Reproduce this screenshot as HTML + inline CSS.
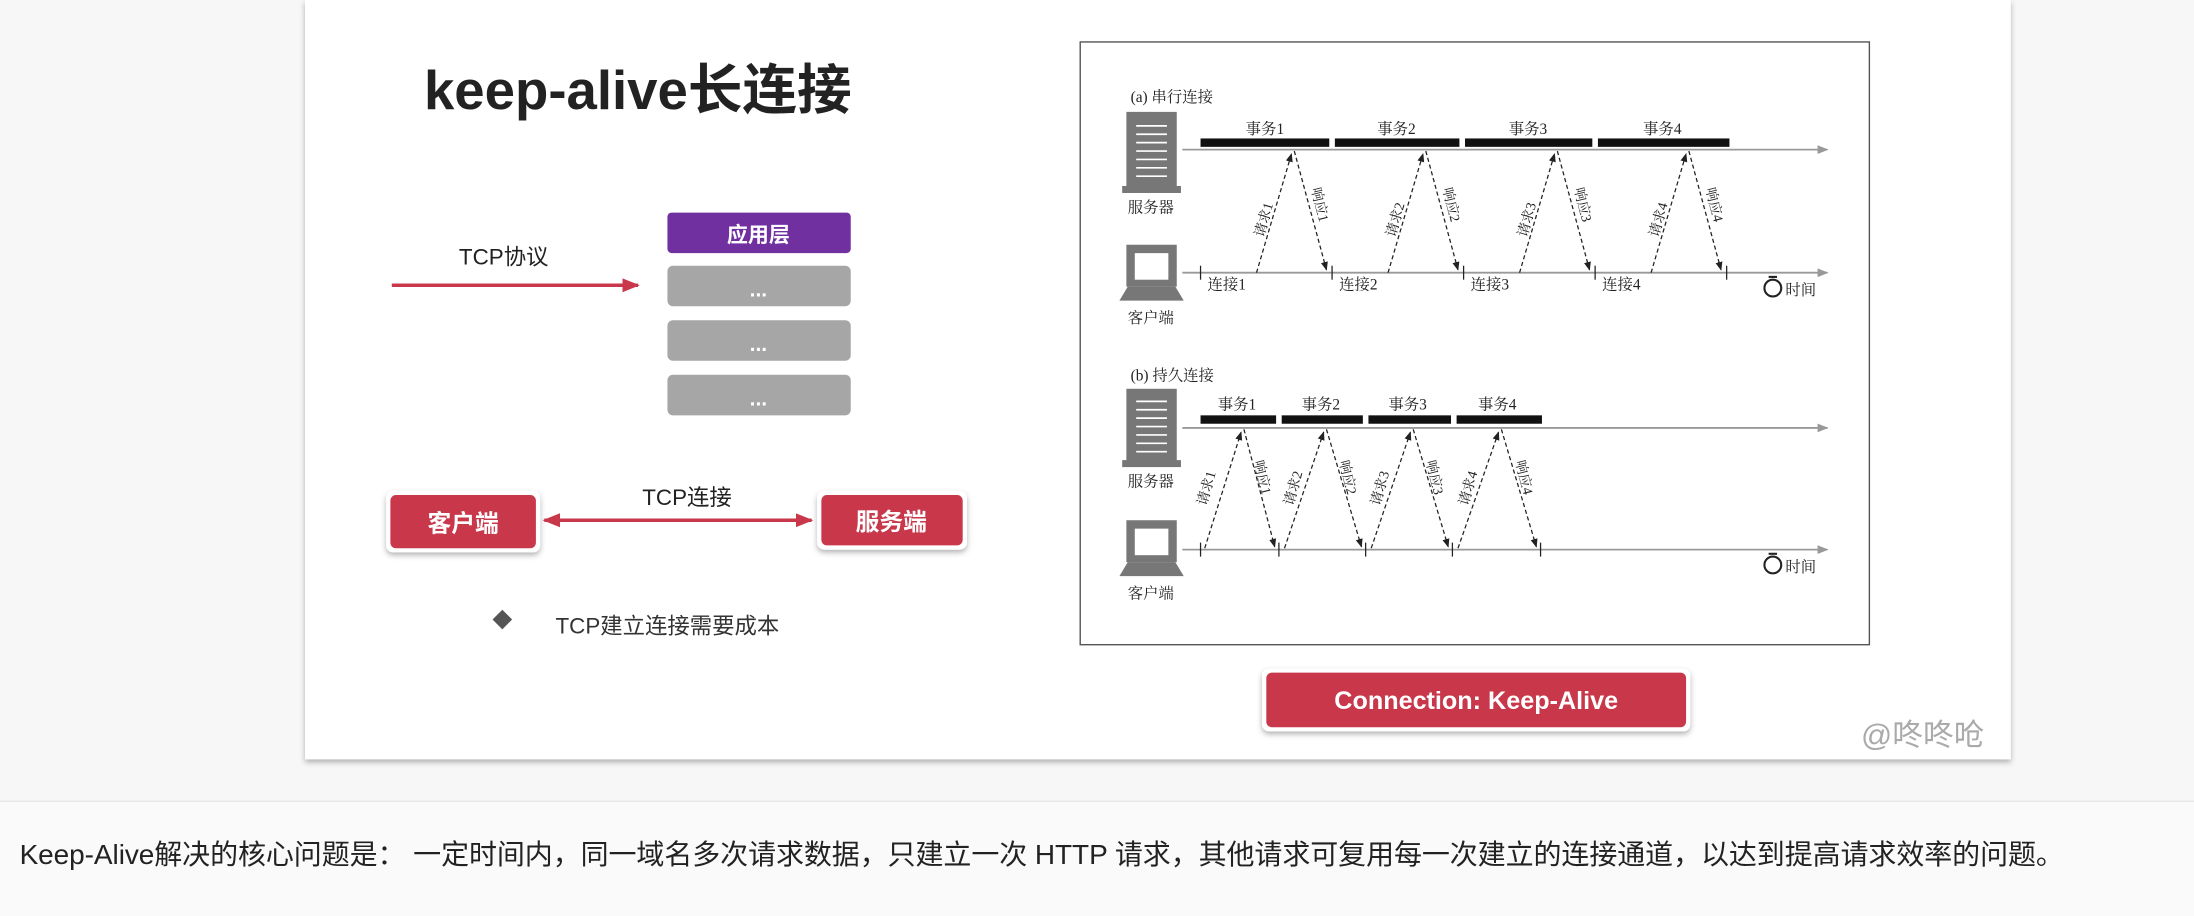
<!DOCTYPE html>
<html><head><meta charset="utf-8"><style>
html,body{margin:0;padding:0;background:#fff;}
svg{display:block;}
</style></head><body>
<svg width="2194" height="916" viewBox="0 0 1568 655" preserveAspectRatio="none" xmlns="http://www.w3.org/2000/svg" font-family="Liberation Sans, Noto Sans CJK SC, sans-serif">
<defs>
<marker id="ar" viewBox="0 0 10 10" refX="9" refY="5" markerWidth="5" markerHeight="5" orient="auto-start-reverse"><path d="M0,1 L10,5 L0,9 z" fill="#c8374a"/></marker>
<marker id="ag" viewBox="0 0 10 10" refX="9" refY="5" markerWidth="6" markerHeight="6" orient="auto"><path d="M0,1 L10,5 L0,9 z" fill="#999"/></marker>
<marker id="ak" viewBox="0 0 10 10" refX="9" refY="5" markerWidth="7" markerHeight="7" orient="auto"><path d="M0,1 L10,5 L0,9 z" fill="#222"/></marker>
<filter id="sh" x="-10%" y="-10%" width="120%" height="130%"><feDropShadow dx="0" dy="2" stdDeviation="2" flood-opacity="0.3"/></filter>
</defs>
<rect x="0" y="0" width="1568" height="655" fill="#f7f7f7"/>
<rect x="218" y="0" width="1219" height="543" fill="#fff" filter="url(#sh)"/>
<rect x="0" y="573" width="1568" height="82" fill="#fafafa"/>
<line x1="0" y1="573" x2="1568" y2="573" stroke="#e6e6e6"/>
<text x="14" y="618" font-size="20" textLength="1461" fill="#222">Keep-Alive解决的核心问题是： 一定时间内，同一域名多次请求数据，只建立一次 HTTP 请求，其他请求可复用每一次建立的连接通道，以达到提高请求效率的问题。</text>

<text x="303" y="78" font-size="39" font-weight="bold" fill="#222">keep-alive长连接</text>
<text x="328" y="189" font-size="16" fill="#222">TCP协议</text>
<line x1="280" y1="204" x2="456" y2="204" stroke="#c8374a" stroke-width="2.5" marker-end="url(#ar)"/>
<rect x="477" y="152" width="131" height="29" rx="3" fill="#7030a0"/>
<text x="542" y="173" font-size="15" font-weight="bold" fill="#fff" text-anchor="middle">应用层</text>
<rect x="477" y="190" width="131" height="29" rx="4" fill="#a6a6a6"/>
<rect x="477" y="229" width="131" height="29" rx="4" fill="#a6a6a6"/>
<rect x="477" y="268" width="131" height="29" rx="4" fill="#a6a6a6"/>
<text x="542" y="212" font-size="15" font-weight="bold" fill="#fff" text-anchor="middle">...</text>
<text x="542" y="251" font-size="15" font-weight="bold" fill="#fff" text-anchor="middle">...</text>
<text x="542" y="290" font-size="15" font-weight="bold" fill="#fff" text-anchor="middle">...</text>

<rect x="276" y="351" width="110" height="44" rx="5" fill="#fff" filter="url(#sh)"/>
<rect x="279" y="354" width="104" height="38" rx="4" fill="#c8374a"/>
<text x="331" y="380" font-size="17" font-weight="bold" fill="#fff" text-anchor="middle">客户端</text>
<rect x="584" y="351" width="107" height="42" rx="5" fill="#fff" filter="url(#sh)"/>
<rect x="587" y="354" width="101" height="36" rx="4" fill="#c8374a"/>
<text x="637" y="379" font-size="17" font-weight="bold" fill="#fff" text-anchor="middle">服务端</text>
<line x1="389" y1="372" x2="580" y2="372" stroke="#c8374a" stroke-width="2.5" marker-start="url(#ar)" marker-end="url(#ar)"/>
<text x="459" y="361" font-size="16" fill="#222">TCP连接</text>
<path d="M359,436 L366,443 L359,450 L352,443 z" fill="#555"/>
<text x="397" y="453" font-size="16" fill="#333">TCP建立连接需要成本</text>

<rect x="772" y="30" width="564" height="431" fill="#fff" stroke="#555" stroke-width="1"/>
<g font-family="Liberation Serif, Noto Serif CJK SC, serif" fill="#222">
<text x="808" y="73" font-size="11">(a) 串行连接</text>
<rect x="805" y="80" width="36" height="56" fill="#777"/><rect x="802" y="133" width="42" height="5" fill="#777"/>
<g stroke="#fff" stroke-width="1.2"><line x1="812" y1="90" x2="834" y2="90"/><line x1="812" y1="96" x2="834" y2="96"/><line x1="812" y1="102" x2="834" y2="102"/><line x1="812" y1="108" x2="834" y2="108"/><line x1="812" y1="114" x2="834" y2="114"/><line x1="812" y1="120" x2="834" y2="120"/><line x1="812" y1="126" x2="834" y2="126"/></g>
<text x="806" y="152" font-size="11">服务器</text>
<rect x="805" y="175" width="36" height="30" fill="#777"/><rect x="811" y="181" width="24" height="19" fill="#fff"/><path d="M800,215 L806,205 L840,205 L846,215 z" fill="#777"/>
<text x="806" y="231" font-size="11">客户端</text>
<line x1="845" y1="107" x2="1306" y2="107" stroke="#999" stroke-width="1.3" marker-end="url(#ag)"/>
<line x1="845" y1="195" x2="1306" y2="195" stroke="#999" stroke-width="1.3" marker-end="url(#ag)"/>
<g fill="#111"><rect x="858" y="99" width="92" height="6"/><rect x="954" y="99" width="89" height="6"/><rect x="1047" y="99" width="91" height="6"/><rect x="1142" y="99" width="94" height="6"/></g>
<g font-size="11" text-anchor="middle"><text x="904" y="96">事务1</text><text x="998" y="96">事务2</text><text x="1092" y="96">事务3</text><text x="1188" y="96">事务4</text></g>
<g stroke="#222" stroke-width="0.9"><line x1="858" y1="190" x2="858" y2="200"/><line x1="952" y1="190" x2="952" y2="200"/><line x1="1046" y1="190" x2="1046" y2="200"/><line x1="1140" y1="190" x2="1140" y2="200"/><line x1="1234" y1="190" x2="1234" y2="200"/></g>
<g font-size="11"><text x="863" y="207">连接1</text><text x="957" y="207">连接2</text><text x="1051" y="207">连接3</text><text x="1145" y="207">连接4</text></g>
<g stroke="#222" stroke-width="0.9" stroke-dasharray="3,2" fill="none">
<line x1="898" y1="195" x2="923" y2="110" marker-end="url(#ak)"/><line x1="925" y1="108" x2="948" y2="193" marker-end="url(#ak)"/>
<line x1="992" y1="195" x2="1017" y2="110" marker-end="url(#ak)"/><line x1="1019" y1="108" x2="1042" y2="193" marker-end="url(#ak)"/>
<line x1="1086" y1="195" x2="1111" y2="110" marker-end="url(#ak)"/><line x1="1113" y1="108" x2="1136" y2="193" marker-end="url(#ak)"/>
<line x1="1180" y1="195" x2="1205" y2="110" marker-end="url(#ak)"/><line x1="1207" y1="108" x2="1230" y2="193" marker-end="url(#ak)"/>
</g>
<g font-size="10">
<text transform="translate(903,170) rotate(-74)">请求1</text><text transform="translate(937,135) rotate(76)">响应1</text>
<text transform="translate(997,170) rotate(-74)">请求2</text><text transform="translate(1031,135) rotate(76)">响应2</text>
<text transform="translate(1091,170) rotate(-74)">请求3</text><text transform="translate(1125,135) rotate(76)">响应3</text>
<text transform="translate(1185,170) rotate(-74)">请求4</text><text transform="translate(1219,135) rotate(76)">响应4</text>
</g>
<circle cx="1267" cy="206" r="6" fill="none" stroke="#222" stroke-width="1.5"/><line x1="1264" y1="198" x2="1270" y2="198" stroke="#222" stroke-width="1.5"/>
<text x="1276" y="211" font-size="11">时间</text>

<text x="808" y="272" font-size="11">(b) 持久连接</text>
<rect x="805" y="278" width="36" height="53" fill="#777"/><rect x="802" y="329" width="42" height="5" fill="#777"/>
<g stroke="#fff" stroke-width="1.2"><line x1="812" y1="287" x2="834" y2="287"/><line x1="812" y1="293" x2="834" y2="293"/><line x1="812" y1="299" x2="834" y2="299"/><line x1="812" y1="305" x2="834" y2="305"/><line x1="812" y1="311" x2="834" y2="311"/><line x1="812" y1="317" x2="834" y2="317"/><line x1="812" y1="323" x2="834" y2="323"/></g>
<text x="806" y="348" font-size="11">服务器</text>
<rect x="805" y="372" width="36" height="30" fill="#777"/><rect x="811" y="378" width="24" height="19" fill="#fff"/><path d="M800,412 L806,402 L840,402 L846,412 z" fill="#777"/>
<text x="806" y="428" font-size="11">客户端</text>
<line x1="845" y1="306" x2="1306" y2="306" stroke="#999" stroke-width="1.3" marker-end="url(#ag)"/>
<line x1="845" y1="393" x2="1306" y2="393" stroke="#999" stroke-width="1.3" marker-end="url(#ag)"/>
<g fill="#111"><rect x="858" y="297" width="54" height="6"/><rect x="916" y="297" width="58" height="6"/><rect x="978" y="297" width="59" height="6"/><rect x="1041" y="297" width="61" height="6"/></g>
<g font-size="11" text-anchor="middle"><text x="884" y="293">事务1</text><text x="944" y="293">事务2</text><text x="1006" y="293">事务3</text><text x="1070" y="293">事务4</text></g>
<g stroke="#222" stroke-width="0.9"><line x1="858" y1="388" x2="858" y2="398"/><line x1="914" y1="388" x2="914" y2="398"/><line x1="976" y1="388" x2="976" y2="398"/><line x1="1038" y1="388" x2="1038" y2="398"/><line x1="1101" y1="388" x2="1101" y2="398"/></g>
<g stroke="#222" stroke-width="0.9" stroke-dasharray="3,2" fill="none">
<line x1="861" y1="392" x2="887" y2="309" marker-end="url(#ak)"/><line x1="889" y1="307" x2="911" y2="391" marker-end="url(#ak)"/>
<line x1="918" y1="392" x2="946" y2="309" marker-end="url(#ak)"/><line x1="948" y1="307" x2="973" y2="391" marker-end="url(#ak)"/>
<line x1="980" y1="392" x2="1008" y2="309" marker-end="url(#ak)"/><line x1="1010" y1="307" x2="1035" y2="391" marker-end="url(#ak)"/>
<line x1="1042" y1="392" x2="1071" y2="309" marker-end="url(#ak)"/><line x1="1073" y1="307" x2="1098" y2="391" marker-end="url(#ak)"/>
</g>
<g font-size="10">
<text transform="translate(862,362) rotate(-74)">请求1</text><text transform="translate(896,330) rotate(76)">响应1</text>
<text transform="translate(924,362) rotate(-74)">请求2</text><text transform="translate(957,330) rotate(76)">响应2</text>
<text transform="translate(986,362) rotate(-74)">请求3</text><text transform="translate(1019,330) rotate(76)">响应3</text>
<text transform="translate(1049,362) rotate(-74)">请求4</text><text transform="translate(1083,330) rotate(76)">响应4</text>
</g>
<circle cx="1267" cy="404" r="6" fill="none" stroke="#222" stroke-width="1.5"/><line x1="1264" y1="396" x2="1270" y2="396" stroke="#222" stroke-width="1.5"/>
<text x="1276" y="409" font-size="11">时间</text>
</g>

<rect x="902" y="478" width="306" height="45" rx="5" fill="#fff" filter="url(#sh)"/>
<rect x="905" y="481" width="300" height="39" rx="4" fill="#c8374a"/>
<text x="1055" y="507" font-size="18" font-weight="bold" fill="#fff" text-anchor="middle">Connection: Keep-Alive</text>
<text x="1330" y="533" font-size="22" fill="#aaa">@咚咚呛</text>
</svg>
</body></html>
